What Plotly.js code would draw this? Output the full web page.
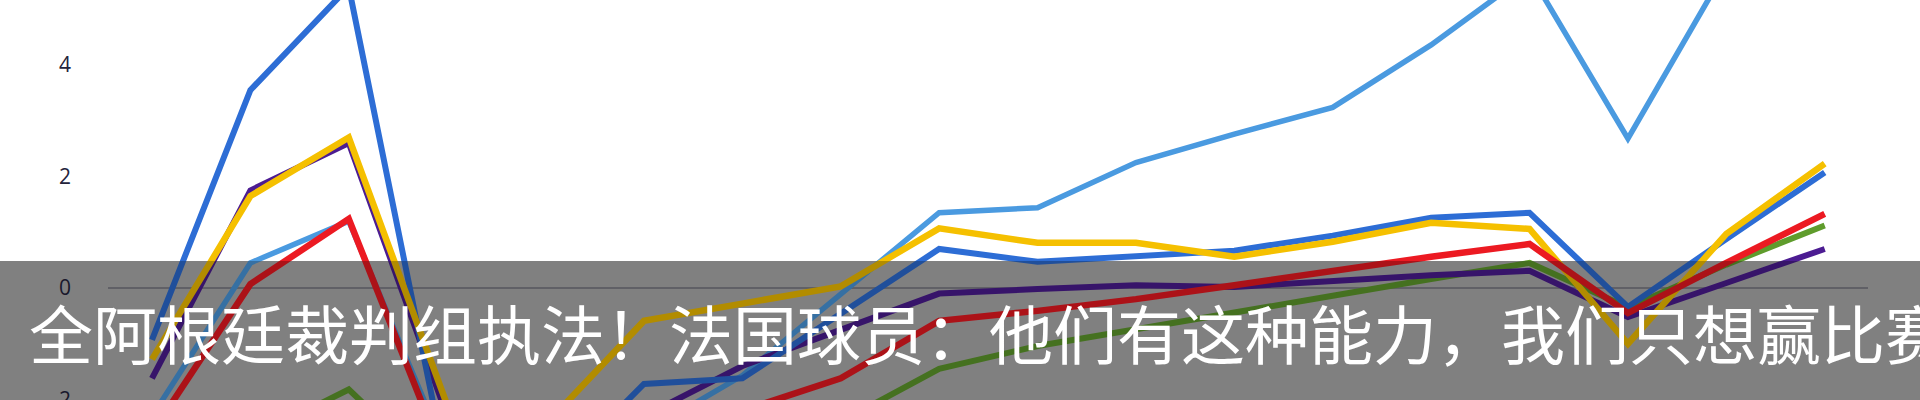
<!DOCTYPE html>
<html>
<head>
<meta charset="utf-8">
<script src="https://cdn.plot.ly/plotly-3.0.1.min.js"></script>
<style>
html,body{margin:0;padding:0;background:#fff;overflow:hidden;}
#chart{width:1920px;height:400px;}
</style>
</head>
<body>
<div id="chart"></div>
<script>
// x positions (match index)
const matches = [1,2,3,4,5,6,7,8,9,10,11,12,13,14,15,16,17,18];

// series values
const lightBlue = [-2.3, 0.45, 1.2, -3.0, -3.4, -2.6, -1.57, -0.1, 1.35, 1.44, 2.25, 2.76, 3.24, 4.36, 5.65, 2.68, 5.73, 6.4];
const darkBlue  = [-0.93, 3.55, 5.4, -3.3, -3.5, -1.72, -1.62, -0.45, 0.70, 0.47, 0.56, 0.67, 0.94, 1.26, 1.35, -0.34, 0.88, 2.07];
const green     = [-3.2, -2.7, -1.82, -3.5, -3.6, -3.3, -2.9, -2.4, -1.45, -1.04, -0.74, -0.45, -0.14, 0.16, 0.45, -0.35, 0.42, 1.12];
const purple    = [-1.62, 1.75, 2.6, -2.3, -2.8, -2.3, -1.4, -0.76, -0.1, -0.02, 0.05, 0.02, 0.13, 0.23, 0.31, -0.52, 0.09, 0.70];
const yellow    = [-1.28, 1.65, 2.7, -2.1, -2.45, -0.59, -0.28, 0.03, 1.07, 0.81, 0.81, 0.56, 0.83, 1.17, 1.06, -1.0, 0.97, 2.23];
const red       = [-2.6, 0.07, 1.24, -3.2, -3.0, -2.6, -2.2, -1.62, -0.59, -0.41, -0.2, 0.05, 0.31, 0.56, 0.79, -0.45, 0.45, 1.33];

const yTicks = [-2, 0, 2, 4];
const caption = "全阿根廷裁判组执法！法国球员：他们有这种能力，我们只想赢比赛";

const series = [
  {name: "lightBlue", y: lightBlue, color: "#4a9ae0", w: 5.5},
  {name: "green",     y: green,     color: "#5f9c2c", w: 6},
  {name: "purple",    y: purple,    color: "#4c1c92", w: 6},
  {name: "darkBlue",  y: darkBlue,  color: "#2d6dd5", w: 6},
  {name: "yellow",    y: yellow,    color: "#f5c000", w: 6.5},
  {name: "red",       y: red,       color: "#ec1a22", w: 6.5}
];

const traces = series.map(s => ({
  type: "scatter",
  mode: "lines",
  x: matches,
  y: s.y,
  name: s.name,
  line: {color: s.color, width: s.w, shape: "linear"},
  hoverinfo: "skip"
}));

const L = 108, R = 52, W = 1920;
const plotW = W - L - R;
const bandTop = 1 - 261 / 400;
const bandX0 = -L / plotW - 0.01, bandX1 = 1 + R / plotW + 0.01;

const layout = {
  width: 1920,
  height: 400,
  margin: {l: L, r: R, t: 0, b: 0, pad: 0},
  paper_bgcolor: "#ffffff",
  plot_bgcolor: "rgba(0,0,0,0)",
  showlegend: false,
  xaxis: {
    range: [0.553, 18.44],
    showgrid: false, zeroline: false, showticklabels: false, showline: false, ticks: ""
  },
  yaxis: {
    range: [-2.009, 5.166],
    tickvals: yTicks,
    ticktext: yTicks.map(String),
    showgrid: false,
    zeroline: true,
    zerolinecolor: "#84848c",
    zerolinewidth: 2,
    showline: false,
    ticks: "",
    ticklabelstandoff: 36,
    ticklabeloverflow: "allow",
    tickfont: {family: "Open Sans, sans-serif", size: 21, color: "#24243c"}
  },
  shapes: [
    {type: "rect", xref: "paper", yref: "paper", x0: bandX0, x1: bandX1, y0: -0.05, y1: bandTop,
     fillcolor: "rgba(0,0,0,0.31)", line: {width: 0}, layer: "below"},
    {type: "rect", xref: "paper", yref: "paper", x0: bandX0, x1: bandX1, y0: -0.05, y1: bandTop,
     fillcolor: "rgba(0,0,0,0.27)", line: {width: 0}, layer: "above"}
  ],
  annotations: [{
    xref: "paper", yref: "paper",
    x: (27 - L) / plotW, y: 1 - 331 / 400,
    xanchor: "left", yanchor: "middle",
    text: caption, showarrow: false,
    font: {family: "Noto Sans CJK SC, sans-serif", size: 64, color: "#ffffff"}
  }]
};

Plotly.newPlot("chart", traces, layout, {staticPlot: true, displayModeBar: false});
</script>
</body>
</html>
